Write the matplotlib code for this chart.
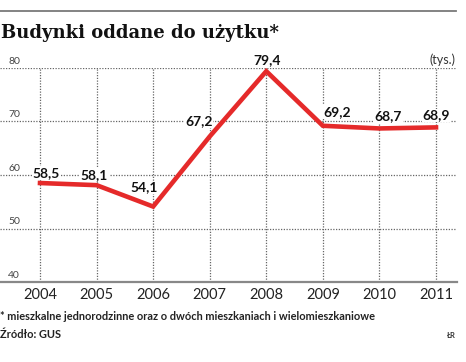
import matplotlib
matplotlib.use("Agg")
import matplotlib.pyplot as plt

years = [2004, 2005, 2006, 2007, 2008, 2009, 2010, 2011]
values = [58.5, 58.1, 54.1, 67.2, 79.4, 69.2, 68.7, 68.9]
labels = ["58,5", "58,1", "54,1", "67,2", "79,4", "69,2", "68,7", "68,9"]
yticks = [40, 50, 60, 70, 80]

# label offsets in pixels (dx right, dy up) relative to each point
label_offsets = [(6, 10), (-2, 10), (-9, 19), (-11, 15), (1, 11), (14, 14), (9, 12), (0, 12)]

W, H = 466, 362
fig = plt.figure(figsize=(W / 100, H / 100), dpi=100)
fig.patch.set_facecolor("white")

ax = fig.add_axes([0 / W, (H - 282) / H, 457 / W, (282 - 68) / H])
x0 = 2004 - 40 / 56.57
ax.set_xlim(x0, 2011 + 21 / 56.57)
ax.set_ylim(40, 80)
for s in ax.spines.values():
    s.set_visible(False)
ax.set_xticks([])
ax.set_yticks([])

grid_kw = dict(color="#666666", lw=0.9, ls=(0, (1, 1.2)), zorder=1)
for t in yticks[1:]:
    ax.axhline(t, **grid_kw)
for y in years:
    ax.axvline(y, **grid_kw)
ax.axhline(40, color="#888888", lw=1.6, zorder=2, clip_on=False)

for t in yticks:
    ax.text(x0 + 8 / 56.57, t + 0.4, str(t), fontsize=7.5,
            family="Lato", color="#444444", ha="left", va="bottom")

ax.plot(years, values, color="#e52a2a", lw=3.3, solid_joinstyle="miter", zorder=3)

for x, v, l, (dx, dy) in zip(years, values, labels, label_offsets):
    ax.annotate(l, (x, v), xytext=(dx * 0.72, dy * 0.72), textcoords="offset points",
                ha="center", va="center", fontsize=10, fontweight="bold",
                family="Lato", color="#111111", zorder=4,
                bbox=dict(boxstyle="square,pad=0.05", fc="white", ec="none"))

for y in years:
    ax.text(y, 38.8, str(y), ha="center", va="top",
            fontsize=10.5, family="Lato", color="#222222")

fig.text(456 / W, 1 - 60 / H, "(tys.)", ha="right", va="center", fontsize=9,
         family="Lato", color="#333333")

fig.add_artist(plt.Line2D([0, 456 / W], [1 - 11 / H, 1 - 11 / H], color="#7a7a7a", lw=1.3))

fig.text(1 / W, 1 - 33 / H, "Budynki oddane do użytku*", ha="left", va="center",
         fontsize=13, fontweight="bold", family="DejaVu Serif", color="#111111")

fig.text(0 / W, 1 - 316 / H,
         "* mieszkalne jednorodzinne oraz o dwóch mieszkaniach i wielomieszkaniowe",
         ha="left", va="center", fontsize=7.9, fontweight="bold", family="Lato",
         color="#222222")
fig.text(0 / W, 1 - 335 / H, "Źródło: GUS", ha="left", va="center", fontsize=7.9,
         fontweight="bold", family="Lato", color="#222222")
fig.text(456 / W, 1 - 335 / H, "ŁR", ha="right", va="center", fontsize=5.5,
         family="Lato", fontweight="bold", color="#333333")

fig.savefig("out.png", dpi=100, facecolor="white")
